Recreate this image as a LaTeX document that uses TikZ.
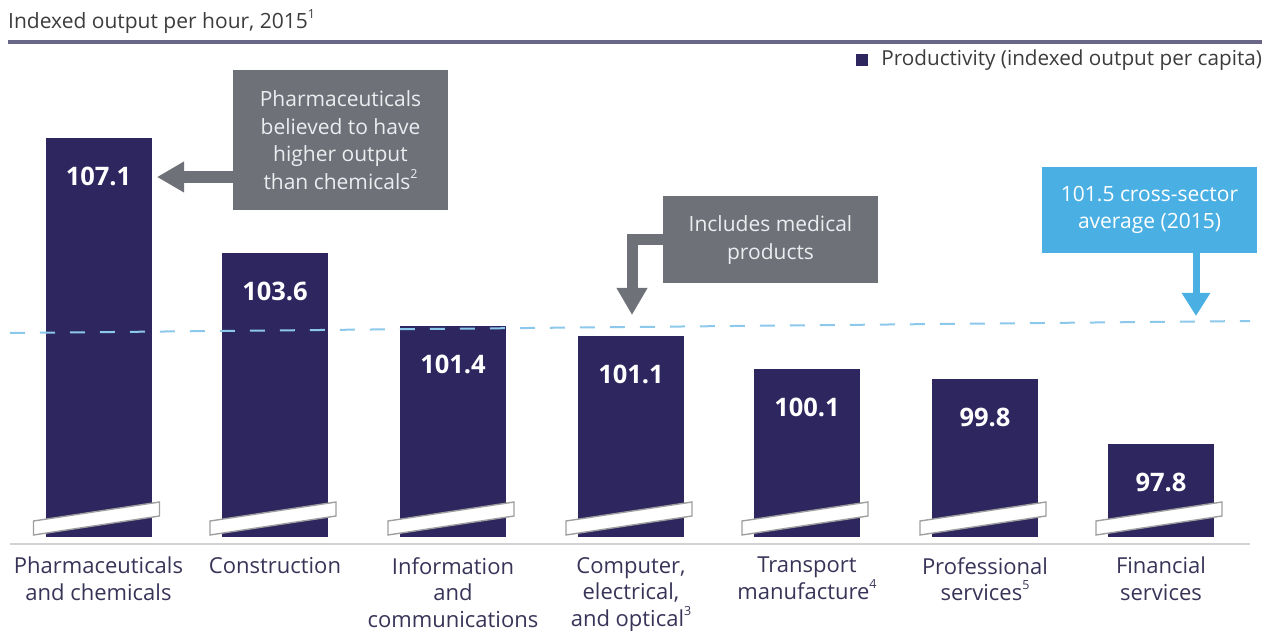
\documentclass[tikz,border=0pt]{standalone}
\usepackage{fontspec}
\setmainfont{Open Sans}
\usetikzlibrary{positioning,arrows.meta}

\newcommand{\smallsup}[1]{\raisebox{0.5em}{\fontsize{12.5}{12.5}\selectfont #1}}

\begin{document}
\begin{tikzpicture}[x=1pt, y=-1pt,
  bar/.style={fill=barpurple, minimum width=106pt, inner sep=0pt, outer sep=0pt, anchor=south},
  vallabel/.style={text=white, font=\fontsize{25.5}{30}\selectfont\bfseries, inner sep=0pt},
  catlabel/.style={text=labeltext, font=\fontsize{22}{26.5}\selectfont, align=center, inner sep=0pt},
  callout/.style={fill=calloutgray, text=calloutfont, font=\fontsize{21}{27.5}\selectfont, align=center, inner sep=0pt, minimum width=215pt},
  breakband/.style={fill=white, draw=gray!75, line width=1.4pt},
  calloutarrow/.style={draw=calloutgray, line width=12pt, -{Triangle[width=29pt,length=27pt]}},
  avgline/.style={draw=avgdash, line width=2pt, dash pattern=on 15pt off 15pt}]

% Define colors
\definecolor{barpurple}{RGB}{46,38,95}
\definecolor{calloutgray}{RGB}{110,113,120}
\definecolor{calloutfont}{RGB}{236,237,239}
\definecolor{avgblue}{RGB}{74,176,228}
\definecolor{avgdash}{RGB}{140,200,235}
\definecolor{labeltext}{RGB}{55,52,88}
\definecolor{titlegray}{RGB}{60,60,60}
\definecolor{rulepurple}{RGB}{105,102,135}

\useasboundingbox (0,0) rectangle (1275,631);

% Title and rule
\node[anchor=base west, inner sep=0pt, text=titlegray, font=\fontsize{21}{25}\selectfont] (title) at (8,29) {Indexed output per hour, 2015\smallsup{1}};
\draw[rulepurple, line width=3.5pt] (8,42) -- (1262,42);

% Legend
\node[fill=barpurple, minimum size=12pt, inner sep=0pt] (legsq) at (862,60) {};
\node[right=13pt of legsq, inner sep=0pt, text=titlegray, font=\fontsize{20.7}{24}\selectfont] (legtxt) {Productivity (indexed output per capita)};

% Base line
\draw[gray!35, line width=1.5pt] (10,544) -- (1250,544);

% Bars
\node[bar, minimum height=399pt] (bar1) at (98.5,537) {};
\node[bar, minimum height=284pt] (bar2) at (275,537) {};
\node[bar, minimum height=211pt] (bar3) at (453,537) {};
\node[bar, minimum height=201pt] (bar4) at (631,537) {};
\node[bar, minimum height=168pt] (bar5) at (807,537) {};
\node[bar, minimum height=158pt] (bar6) at (985,537) {};
\node[bar, minimum height=93pt] (bar7) at (1161,537) {};

% Values
\node[vallabel, below=29pt of bar1.north] (val1) {107.1};
\node[vallabel, below=29pt of bar2.north] (val2) {103.6};
\node[vallabel, below=29pt of bar3.north] (val3) {101.4};
\node[vallabel, below=29pt of bar4.north] (val4) {101.1};
\node[vallabel, below=29pt of bar5.north] (val5) {100.1};
\node[vallabel, below=29pt of bar6.north] (val6) {99.8};
\node[vallabel, below=29pt of bar7.north] (val7) {97.8};

% Axis breaks
\draw[breakband] ([shift={(-12,-2)}]bar1.south west) -- ([shift={(-12,-16)}]bar1.south west) -- ([shift={(8,-35)}]bar1.south east) -- ([shift={(8,-21)}]bar1.south east) -- cycle;
\draw[breakband] ([shift={(-12,-2)}]bar2.south west) -- ([shift={(-12,-16)}]bar2.south west) -- ([shift={(8,-35)}]bar2.south east) -- ([shift={(8,-21)}]bar2.south east) -- cycle;
\draw[breakband] ([shift={(-12,-2)}]bar3.south west) -- ([shift={(-12,-16)}]bar3.south west) -- ([shift={(8,-35)}]bar3.south east) -- ([shift={(8,-21)}]bar3.south east) -- cycle;
\draw[breakband] ([shift={(-12,-2)}]bar4.south west) -- ([shift={(-12,-16)}]bar4.south west) -- ([shift={(8,-35)}]bar4.south east) -- ([shift={(8,-21)}]bar4.south east) -- cycle;
\draw[breakband] ([shift={(-12,-2)}]bar5.south west) -- ([shift={(-12,-16)}]bar5.south west) -- ([shift={(8,-35)}]bar5.south east) -- ([shift={(8,-21)}]bar5.south east) -- cycle;
\draw[breakband] ([shift={(-12,-2)}]bar6.south west) -- ([shift={(-12,-16)}]bar6.south west) -- ([shift={(8,-35)}]bar6.south east) -- ([shift={(8,-21)}]bar6.south east) -- cycle;
\draw[breakband] ([shift={(-12,-2)}]bar7.south west) -- ([shift={(-12,-16)}]bar7.south west) -- ([shift={(8,-35)}]bar7.south east) -- ([shift={(8,-21)}]bar7.south east) -- cycle;

% Category labels
\node[catlabel, below=20pt of bar1] (lab1) {Pharmaceuticals\\and chemicals};
\node[catlabel, below=20pt of bar2] (lab2) {Construction};
\node[catlabel, below=20pt of bar3] (lab3) {Information\\and\\communications};
\node[catlabel, below=20pt of bar4] (lab4) {Computer,\\electrical,\\and optical\smallsup{3}};
\node[catlabel, below=20pt of bar5] (lab5) {Transport\\manufacture\smallsup{4}};
\node[catlabel, below=20pt of bar6] (lab6) {Professional\\services\smallsup{5}};
\node[catlabel, below=20pt of bar7] (lab7) {Financial\\services};

% Cross-sector average
\coordinate (avgstart) at (10,333);
\coordinate (avgend) at (1250,321);
\draw[avgline] (avgstart) -- (avgend);

% Callouts
\node[callout, minimum height=140pt] (pharmbox) at (340.5,140) {Pharmaceuticals\\believed to have\\higher output\\than chemicals\smallsup{2}};
\node[callout, minimum height=87pt] (medbox) at (770.5,240) {Includes medical\\products};
\node[callout, minimum height=86pt, fill=avgblue, text=white] (avgbox) at (1149.5,210) {101.5 cross-sector\\average (2015)};

\coordinate (pharmtip) at (157,177);
\coordinate (medtip) at (632,315);
\coordinate (avgtip) at (1196,316);
\draw[calloutarrow] (pharmbox.west |- pharmtip) -- (pharmtip);
\draw[calloutarrow, line width=11pt, line join=miter] (medbox.west) -| (medtip);
\draw[draw=avgblue, line width=7pt, -{Triangle[width=27pt,length=23pt]}] (avgbox.south -| avgtip) -- (avgtip);

\end{tikzpicture}
\end{document}
